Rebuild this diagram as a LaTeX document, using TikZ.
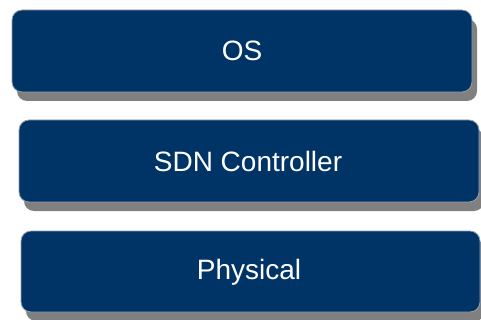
\documentclass[tikz,border=0pt]{standalone}
\usepackage{fontspec}
\setmainfont{Liberation Sans}
\definecolor{navy}{RGB}{0,51,102}
\definecolor{shade}{RGB}{128,128,128}
\definecolor{rim}{RGB}{150,160,175}
\tikzset{
  layer/.style={draw=rim, line width=0.8pt, fill=navy, rounded corners=10pt},
  layershadow/.style={fill=shade, rounded corners=10pt},
  layertext/.style={text=white, font=\fontsize{28}{33}\selectfont}
}
\begin{document}
\begin{tikzpicture}[x=1pt,y=-1pt]
\clip (0,0) rectangle (481,320);
\fill[white] (0,0) rectangle (481,320);
% shadows
\fill[layershadow] (17,19) rectangle (477,101);
\fill[layershadow] (24,129) rectangle (484,211);
\fill[layershadow] (26,240) rectangle (485,321);
% boxes
\draw[layer] (12,10) rectangle (472,92);
\draw[layer] (19,120) rectangle (479,202);
\draw[layer] (21,231) rectangle (480,312);
\node[layertext] (os) at (242,51) {OS};
\node[layertext] (sdn) at (248,161) {SDN Controller};
\node[layertext] (phys) at (249,272) {Physical};
\end{tikzpicture}
\end{document}
